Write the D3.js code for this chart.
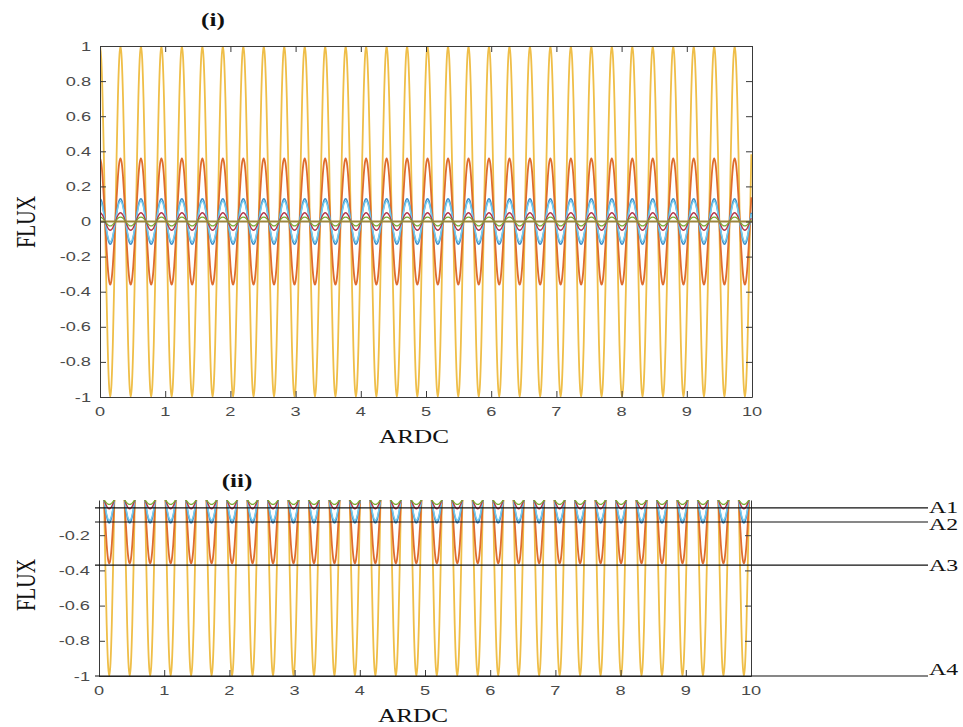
<!DOCTYPE html>
<html>
<head>
<meta charset="utf-8">
<script src="https://cdn.jsdelivr.net/npm/d3@7"></script>
<style>
  html, body { margin: 0; padding: 0; background: #fff; }
  svg { display: block; }
</style>
</head>
<body>
<svg id="chart" width="963" height="727"></svg>
<script>
// ---- data ----
const xTicks = [0, 1, 2, 3, 4, 5, 6, 7, 8, 9, 10];
const yTicksTop = [-1, -0.8, -0.6, -0.4, -0.2, 0, 0.2, 0.4, 0.6, 0.8, 1];
const yTicksBottom = [-1, -0.8, -0.6, -0.4, -0.2];

const seriesNames = ["S1", "S2", "S3", "S4", "S5", "S6"];
const seriesAmplitudes = [1.0, 0.36, 0.13, 0.115, 0.05, 0.025];
const seriesColors = ["#EFBE48", "#DE6C2E", "#3E8FC9", "#74CCEE", "#B4364A", "#77AC30"];
const seriesWidths = [1.8, 1.8, 1.6, 1.4, 1.4, 1.3];

// spacing between successive crests along ARDC
const period = 0.314;
// normalised profile of one oscillation (16 steps per cycle)
const cycleShape = [1, 0.924, 0.707, 0.383, 0, -0.383, -0.707, -0.924,
                    -1, -0.924, -0.707, -0.383, 0, 0.383, 0.707, 0.924];
const baselineLevel = 0;

// reference levels in panel (ii)
const guideLabels = ["A1", "A2", "A3", "A4"];
const guideLevels = [-0.045, -0.125, -0.37, -1];
const guideLabelShift = [-1, 2, 0, -1];

// ---- layout ----
const TEXT_STRETCH = 1.4;
const svg = d3.select("#chart");
const serif = "'Liberation Serif', 'Times New Roman', serif";
const sans = "'Liberation Sans', Arial, sans-serif";

const panels = [
  { title: "(i)", left: 100, right: 752, top: 46, bottom: 397, domain: [-1, 1], yTicks: yTicksTop,
    titleX: 213, titleY: 20, yLabelY: 222, xLabelY: 437, box: true, baseline: true, guides: false },
  { title: "(ii)", left: 99, right: 751, top: 500, bottom: 676, domain: [-1, 0], yTicks: yTicksBottom,
    titleX: 237, titleY: 481, yLabelY: 585, xLabelY: 716, box: false, baseline: false, guides: true }
];

const xMax = 10;
const step = period / cycleShape.length;
const nPts = Math.floor(xMax / step) + 1;
const seriesData = seriesNames.map((name, s) => {
  const pts = [];
  for (let i = 0; i < nPts; i++) {
    pts.push({ x: i * step, y: seriesAmplitudes[s] * cycleShape[i % cycleShape.length] });
  }
  return { name, color: seriesColors[s], width: seriesWidths[s], values: pts };
});

function stretchedText(g, x, y, txt, opts) {
  return g.append("text")
    .attr("transform", `translate(${x},${y}) scale(${TEXT_STRETCH},1)` + (opts.rotate ? ` rotate(${opts.rotate})` : ""))
    .attr("text-anchor", opts.anchor || "middle")
    .attr("dominant-baseline", opts.baseline || "central")
    .attr("font-family", opts.family || serif)
    .attr("font-size", opts.size || 16)
    .attr("font-weight", opts.weight || "normal")
    .attr("fill", opts.fill || "#111")
    .text(txt);
}

panels.forEach((p, pi) => {
  const g = svg.append("g");
  const x = d3.scaleLinear().domain([0, xMax]).range([p.left, p.right]);
  const y = d3.scaleLinear().domain(p.domain).range([p.bottom, p.top]);

  const clipId = "clip" + pi;
  svg.append("defs").append("clipPath").attr("id", clipId)
    .append("rect").attr("x", p.left).attr("y", p.top)
    .attr("width", p.right - p.left).attr("height", p.bottom - p.top);

  // curves
  const line = d3.line().x(d => x(d.x)).y(d => y(d.y)).curve(d3.curveNatural);
  const plot = g.append("g").attr("clip-path", `url(#${clipId})`);
  seriesData.forEach(s => {
    plot.append("path").datum(s.values)
      .attr("fill", "none").attr("stroke", s.color)
      .attr("stroke-width", s.width).attr("d", line);
  });
  if (p.baseline) {
    plot.append("line")
      .attr("x1", x(0)).attr("x2", x(xMax))
      .attr("y1", y(baselineLevel)).attr("y2", y(baselineLevel))
      .attr("stroke", "#9C843A").attr("stroke-width", 1.8);
  }

  // axes with inward ticks
  const axisColor = "#3a3a3a";
  const bottomAxis = g.append("g").attr("transform", `translate(0,${p.bottom})`)
    .call(d3.axisBottom(x).tickValues(xTicks).tickSizeInner(-6).tickSizeOuter(0).tickFormat(""));
  const leftAxis = g.append("g").attr("transform", `translate(${p.left},0)`)
    .call(d3.axisLeft(y).tickValues(p.yTicks).tickSizeInner(-6).tickSizeOuter(0).tickFormat(""));
  const rightAxis = g.append("g").attr("transform", `translate(${p.right},0)`)
    .call(d3.axisRight(y).tickValues(p.yTicks).tickSizeInner(-6).tickSizeOuter(0).tickFormat(""));
  const axes = [bottomAxis, leftAxis, rightAxis];
  if (p.box) {
    const topAxis = g.append("g").attr("transform", `translate(0,${p.top})`)
      .call(d3.axisTop(x).tickValues(xTicks).tickSizeInner(-6).tickSizeOuter(0).tickFormat(""));
    axes.push(topAxis);
  }
  axes.forEach(a => {
    a.select(".domain").attr("stroke", axisColor).attr("stroke-width", 1);
    a.selectAll(".tick line").attr("stroke", axisColor).attr("stroke-width", 1);
  });

  // tick labels (plain hyphen for negatives)
  xTicks.forEach(v => {
    stretchedText(g, x(v), p.bottom + 14, String(v),
      { family: sans, size: 13, fill: "#4a4a4a" });
  });
  p.yTicks.forEach(v => {
    stretchedText(g, p.left - 9, y(v), String(v),
      { family: sans, size: 13, fill: "#4a4a4a", anchor: "end" });
  });

  // titles and axis labels
  stretchedText(g, p.titleX, p.titleY, p.title, { size: 18, weight: "bold" });
  stretchedText(g, (p.left + p.right) / 2 - 12, p.xLabelY, "ARDC", { size: 18 });
  stretchedText(g, 25, p.yLabelY, "FLUX", { size: 20, rotate: -90 });

  // reference levels
  if (p.guides) {
    guideLevels.forEach((lv, i) => {
      g.append("line")
        .attr("x1", p.left - 4).attr("x2", 928)
        .attr("y1", y(lv)).attr("y2", y(lv))
        .attr("stroke", "#111").attr("stroke-width", 1.2);
      const last = i === guideLevels.length - 1;
      stretchedText(g, 929, y(lv) + guideLabelShift[i], guideLabels[i],
        { size: 17, anchor: "start", baseline: last ? "alphabetic" : "central" });
    });
  }
});
</script>
</body>
</html>
